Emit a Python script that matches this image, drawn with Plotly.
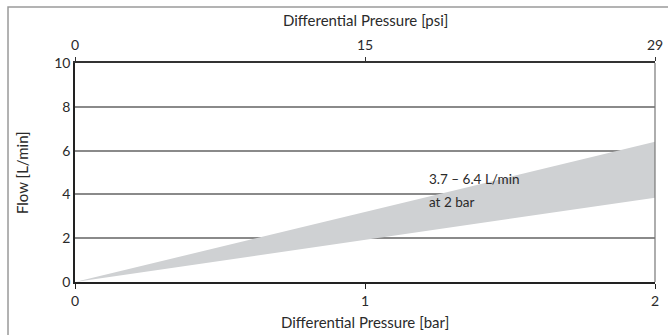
import plotly.graph_objects as go

# Data
pressure_bar = [0, 2]
flow_low = [0, 3.85]
flow_high = [0, 6.4]
bar_ticks = [0, 1, 2]
bar_tick_labels = ["0", "1", "2"]
psi_tick_labels = ["0", "15", "29"]
flow_ticks = [0, 2, 4, 6, 8, 10]
note_lines = ["3.7 – 6.4 L/min", "at 2 bar"]

FONT = "Lato"
TXT = "#2a2a2a"
FS = 14

fig = go.Figure()
fig.add_trace(go.Scatter(x=pressure_bar, y=flow_low, mode="lines",
                         line=dict(width=0, color="#cfd1d3"), showlegend=False, hoverinfo="skip"))
fig.add_trace(go.Scatter(x=pressure_bar, y=flow_high, mode="lines", fill="tonexty",
                         fillcolor="#cfd1d3", line=dict(width=0, color="#cfd1d3"),
                         showlegend=False, hoverinfo="skip"))
# invisible trace for top axis
fig.add_trace(go.Scatter(x=pressure_bar, y=flow_low, xaxis="x2", mode="lines",
                         line=dict(width=0), showlegend=False, hoverinfo="skip", opacity=0))

fig.update_layout(
    width=668, height=335,
    margin=dict(l=75, r=13, t=63, b=53),
    paper_bgcolor="white", plot_bgcolor="white",
    font=dict(family=FONT, size=FS, color=TXT),
    xaxis=dict(range=[0, 2], tickvals=bar_ticks, ticktext=bar_tick_labels,
               showgrid=False, zeroline=False, showline=True, linecolor="#222",
               linewidth=1.5, ticks="outside", ticklen=5, tickcolor="#222",
               automargin=False),
    xaxis2=dict(range=[0, 2], overlaying="x", side="top", tickvals=bar_ticks,
                ticktext=psi_tick_labels, showgrid=False, zeroline=False,
                showline=True, linecolor="#333", linewidth=1.5, ticks="outside",
                ticklen=4, tickcolor="#333", ticklabelstandoff=2, automargin=False),
    yaxis=dict(range=[0, 10], tickvals=flow_ticks, showgrid=True,
               gridcolor="#8a8a8a", gridwidth=1.5, zeroline=False, showline=True,
               linecolor="#222", linewidth=1.5, ticks="", automargin=False),
    shapes=[
        dict(type="line", xref="paper", yref="paper", x0=1, x1=1, y0=0, y1=1,
             line=dict(color="#777", width=1.2), layer="above"),
        dict(type="rect", xref="paper", yref="paper", x0=-0.1155, x1=1.5,
             y0=-0.6, y1=1.2557, line=dict(color="#9a9a9a", width=1.5),
             fillcolor="rgba(0,0,0,0)", layer="below"),
    ],
    annotations=[
        dict(x=1.215, y=4.70, xref="x", yref="y", xanchor="left", yanchor="middle",
             showarrow=False, text=note_lines[0], font=dict(size=13.5, color=TXT)),
        dict(x=1.215, y=3.65, xref="x", yref="y", xanchor="left", yanchor="middle",
             showarrow=False, text=note_lines[1], font=dict(size=13.5, color=TXT)),
        dict(x=0.5, y=1.196, xref="paper", yref="paper", xanchor="center",
             yanchor="middle", showarrow=False, text="Differential Pressure [psi]",
             font=dict(size=15, color=TXT)),
        dict(x=0.5, y=-0.1826, xref="paper", yref="paper", xanchor="center",
             yanchor="middle", showarrow=False, text="Differential Pressure [bar]",
             font=dict(size=15, color=TXT)),
        dict(x=-0.0914, y=0.502, xref="paper", yref="paper", xanchor="center",
             yanchor="middle", showarrow=False, text="Flow [L/min]", textangle=-90,
             font=dict(size=15, color=TXT)),
    ],
)

fig.write_html("out.html", config={"displayModeBar": False},
               post_script="document.body.style.margin='0';document.body.style.overflow='hidden';")
